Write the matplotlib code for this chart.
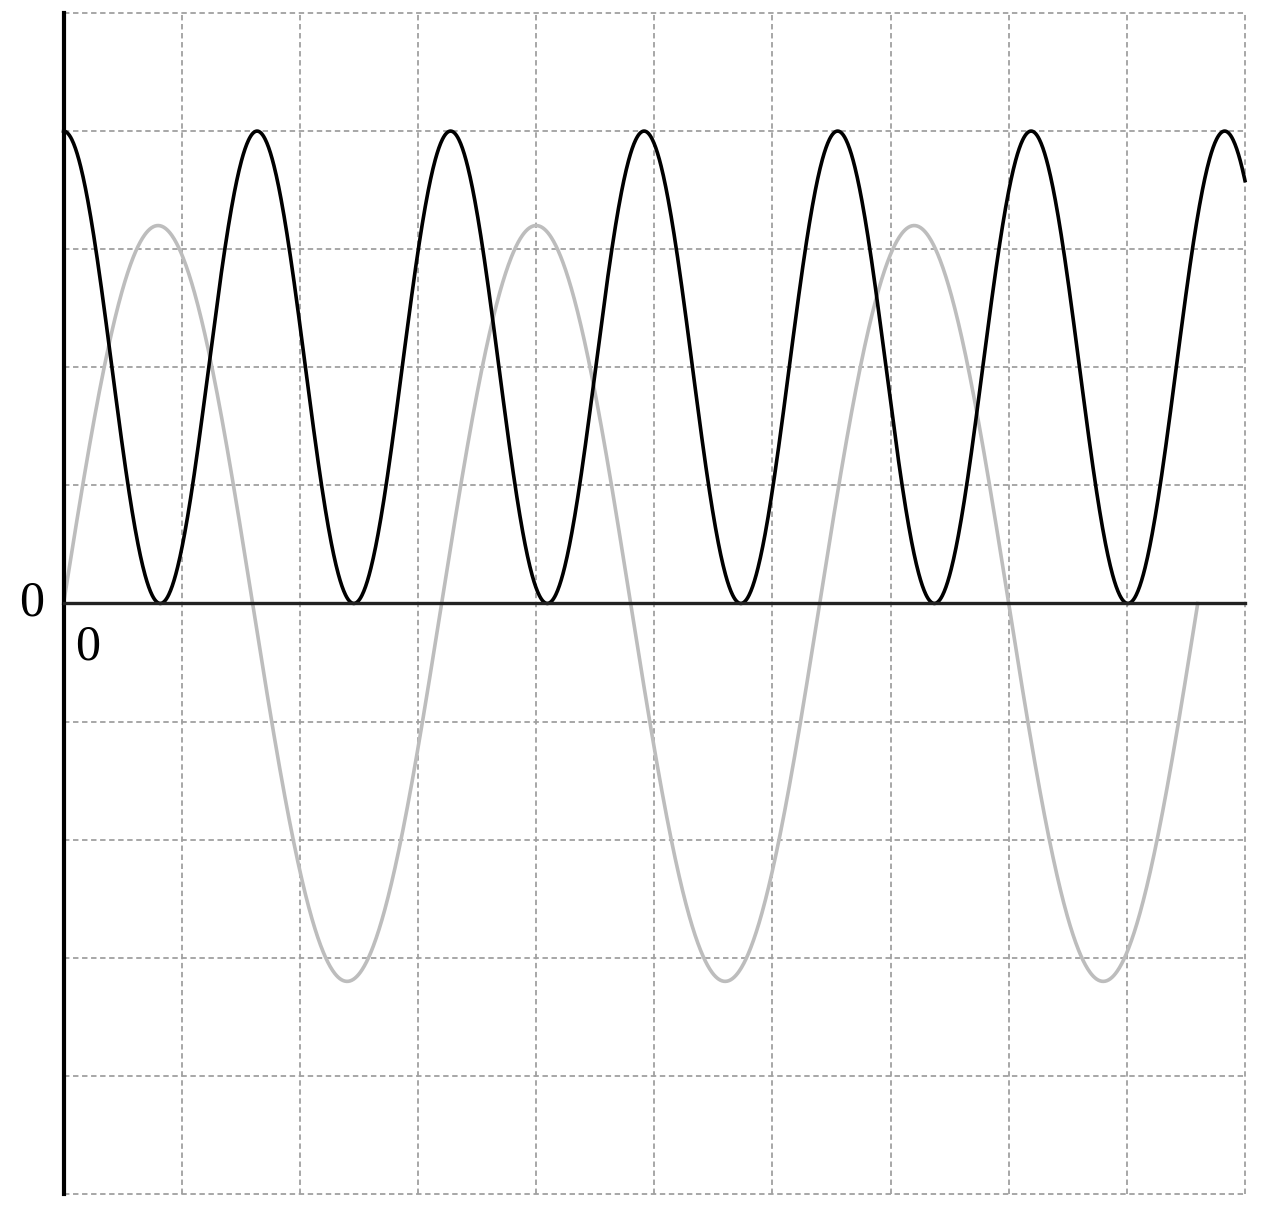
import numpy as np
import matplotlib
matplotlib.use("Agg")
import matplotlib.pyplot as plt

# values (grid units)
x_range = [0, 10]
y_range = [-5, 5]
black_max = 4.0        # black curve swings between 0 and this
black_period = 1.638   # distance between black peaks
gray_amp = 3.2         # gray curve amplitude
gray_period = 3.2      # gray full period
gray_end = 9.6         # gray curve stops here
axis_labels = ["0", "0"]

fig = plt.figure(figsize=(12.61, 12.13), dpi=100)
ax = fig.add_axes([0.0504, 0.0157, 0.9369, 0.9736])
ax.set_xlim(x_range)
ax.set_ylim(y_range)
ax.axis("off")

# dashed grid, including the outer border
for gx in range(x_range[0], x_range[1] + 1):
    ax.plot([gx, gx], y_range, color="#a0a0a0", lw=1.3, ls=(0, (3, 2)), clip_on=False, zorder=1)
for gy in range(y_range[0], y_range[1] + 1):
    ax.plot(x_range, [gy, gy], color="#a0a0a0", lw=1.3, ls=(0, (3, 2)), clip_on=False, zorder=1)

# curves
xb = np.linspace(0, x_range[1], 2000)
yb = black_max * np.cos(np.pi * xb / black_period) ** 2
xg = np.linspace(0, gray_end, 2000)
yg = gray_amp * np.sin(2 * np.pi * xg / gray_period)
ax.plot(xg, yg, color="#bdbdbd", lw=2.6, zorder=3, clip_on=False)
ax.plot(xb, yb, color="black", lw=2.6, zorder=4, clip_on=False)

# axes
ax.plot([0, 0], y_range, color="black", lw=3, zorder=5, clip_on=False)
ax.plot(x_range, [0, 0], color="#222222", lw=2.4, zorder=5, clip_on=False)

serif = ["Liberation Serif", "DejaVu Serif"]
ax.text(-0.267, 0, axis_labels[0], fontsize=36, family=serif,
        ha="center", va="center")
ax.text(0.207, -0.37, axis_labels[1], fontsize=36, family=serif,
        ha="center", va="center")

fig.savefig("out.png", dpi=100, facecolor="white")
